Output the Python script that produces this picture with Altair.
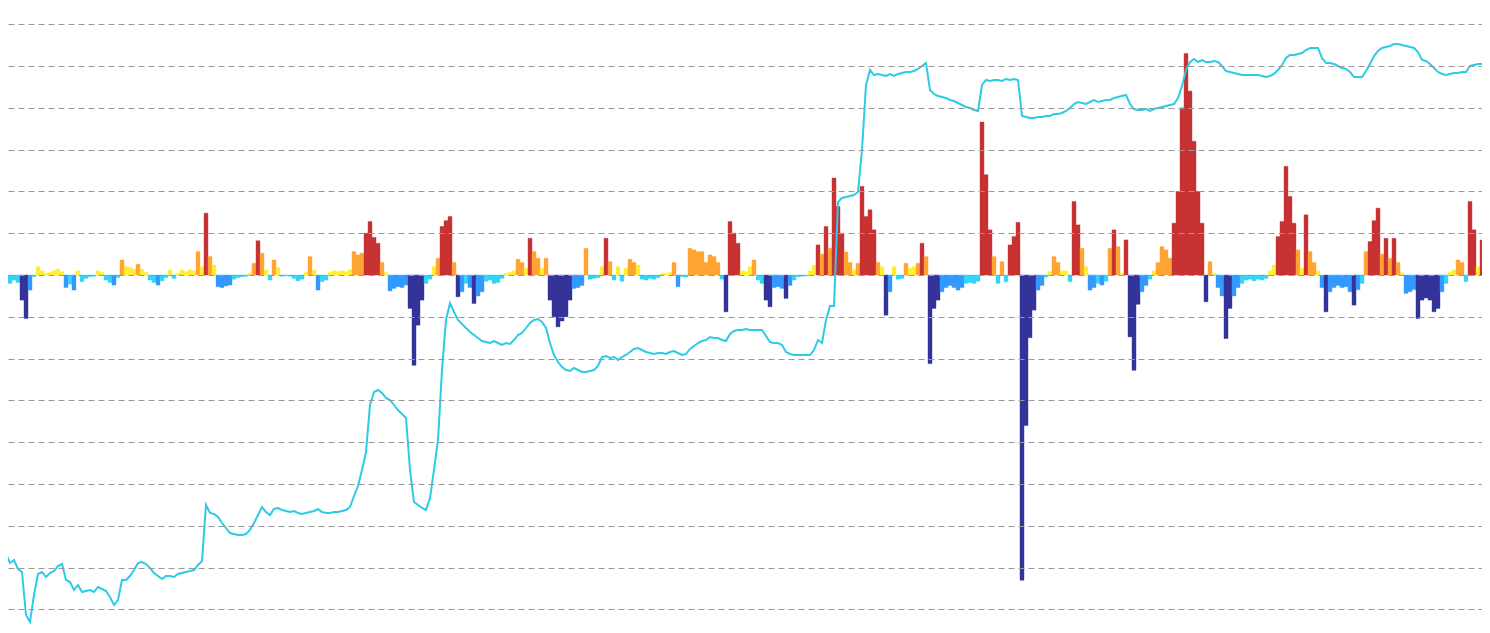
import altair as alt
import pandas as pd

# Oscillator values (one per period), in gridline units
momentum = [
    -0.16, -0.2, -0.2, -0.12, -0.18, -0.6, -1.04, -0.36, -0.04, 0.2,
    0.1, 0.04, 0.06, 0.1, 0.14, 0.08, -0.3, -0.22, -0.36, 0.1,
    -0.16, -0.08, -0.04, -0.03, 0.1, 0.06, -0.12, -0.18, -0.24, -0.06,
    0.36, 0.2, 0.18, 0.14, 0.26, 0.14, 0.06, -0.12, -0.18, -0.24,
    -0.14, -0.06, 0.12, -0.08, 0.04, 0.12, 0.08, 0.12, 0.1, 0.56,
    0.2, 1.48, 0.44, 0.24, -0.28, -0.3, -0.26, -0.24, -0.1, -0.06,
    -0.04, -0.03, 0.04, 0.28, 0.82, 0.52, 0.12, -0.12, 0.36, 0.18,
    -0.03, -0.02, -0.03, -0.08, -0.14, -0.1, 0.06, 0.44, 0.12, -0.36,
    -0.16, -0.12, 0.06, 0.1, 0.08, 0.1, 0.08, 0.12, 0.56, 0.48,
    0.52, 1.0, 1.28, 0.9, 0.76, 0.3, 0.06, -0.38, -0.32, -0.28,
    -0.3, -0.24, -0.8, -2.16, -1.2, -0.6, -0.2, -0.1, 0.2, 0.4,
    1.16, 1.3, 1.4, 0.3, -0.52, -0.4, -0.2, -0.3, -0.68, -0.5,
    -0.4, -0.15, -0.12, -0.2, -0.18, -0.08, 0.04, 0.06, 0.1, 0.38,
    0.3, 0.16, 0.88, 0.56, 0.4, 0.16, 0.4, -0.6, -1.0, -1.24,
    -1.1, -1.0, -0.6, -0.32, -0.3, -0.25, 0.64, -0.1, -0.08, -0.06,
    0.2, 0.88, 0.32, -0.12, 0.2, -0.15, 0.16, 0.38, 0.3, 0.24,
    -0.1, -0.12, -0.08, -0.1, -0.06, 0.04, 0.03, 0.06, 0.3, -0.28,
    -0.04, -0.05, 0.64, 0.6, 0.56, 0.56, 0.3, 0.48, 0.44, 0.3,
    -0.1, -0.88, 1.28, 1.0, 0.76, 0.1, 0.08, 0.2, 0.36, -0.12,
    -0.2, -0.6, -0.76, -0.3, -0.28, -0.32, -0.56, -0.25, -0.12, -0.04,
    -0.03, -0.02, 0.1, 0.24, 0.72, 0.5, 1.16, 0.64, 2.32, 1.64,
    1.0, 0.55, 0.3, 0.12, 0.28, 2.12, 1.4, 1.56, 1.08, 0.3,
    0.2, -0.96, -0.4, 0.2, -0.1, -0.08, 0.28, 0.16, 0.2, 0.28,
    0.76, 0.44, -2.12, -0.8, -0.6, -0.4, -0.3, -0.25, -0.3, -0.36,
    -0.3, -0.2, -0.18, -0.2, -0.15, 3.66, 2.4, 1.08, 0.44, -0.2,
    0.32, -0.16, 0.72, 0.92, 1.26, -7.3, -3.6, -1.5, -0.84, -0.36,
    -0.25, -0.05, 0.08, 0.44, 0.3, 0.1, 0.1, -0.16, 1.76, 1.2,
    0.64, 0.2, -0.36, -0.3, -0.2, -0.24, -0.15, 0.64, 1.08, 0.68,
    0.04, 0.84, -1.48, -2.28, -0.7, -0.4, -0.25, -0.1, 0.1, 0.3,
    0.68, 0.6, 0.4, 1.24, 2.0, 4.0, 5.3, 4.4, 3.2, 2.0,
    1.24, -0.64, 0.32, 0.04, -0.3, -0.5, -1.52, -0.8, -0.5, -0.3,
    -0.2, -0.12, -0.1, -0.14, -0.1, -0.12, -0.08, 0.1, 0.24, 0.92,
    1.28, 2.6, 1.88, 1.24, 0.6, 0.16, 1.44, 0.56, 0.3, 0.1,
    -0.3, -0.88, -0.4, -0.3, -0.25, -0.3, -0.28, -0.4, -0.72, -0.35,
    -0.2, 0.56, 0.8, 1.3, 1.6, 0.5, 0.88, 0.4, 0.88, 0.3,
    0.05, -0.44, -0.4, -0.35, -1.04, -0.6, -0.55, -0.6, -0.88, -0.8,
    -0.4, -0.2, 0.06, 0.12, 0.36, 0.3, -0.16, 1.76, 1.08, 0.2,
    0.84, 0.56,
]

# Price index (one per period, arbitrary units)
price = [
    108, 106, 97, 100, 91, 88, 45, 38, 65, 86,
    88, 83, 87, 89, 94, 96, 80, 78, 70, 75,
    68, 69, 70, 68, 73, 71, 69, 63, 55, 60,
    80, 80, 84, 90, 97, 98, 96, 92, 87, 84,
    81, 84, 84, 83, 86, 87, 88, 89, 90, 95,
    99, 155, 147, 146, 143, 137, 132, 127, 126, 125,
    125, 126, 130, 137, 145, 153, 148, 145, 151, 152,
    150, 149, 148, 149, 147, 146, 147, 148, 149, 151,
    148, 147, 147, 148, 148, 149, 150, 153, 164, 174,
    190, 208, 255, 268, 270, 267, 262, 260, 255, 250,
    246, 242, 190, 158, 155, 152, 150, 162, 190, 220,
    290, 340, 357, 348, 340, 336, 332, 328, 325, 322,
    319, 318, 317, 319, 317, 315, 317, 316, 320, 325,
    327, 332, 337, 340, 341, 338, 332, 317, 305, 298,
    293, 290, 289, 292, 290, 288, 288, 289, 290, 294,
    303, 304, 302, 303, 300, 303, 305, 308, 311, 312,
    310, 308, 307, 306, 307, 307, 306, 308, 309, 307,
    305, 306, 311, 314, 317, 319, 320, 323, 322, 322,
    320, 319, 326, 329, 330, 330, 331, 330, 330, 330,
    330, 324, 318, 317, 317, 315, 308, 306, 305, 305,
    305, 305, 305, 310, 320, 317, 340, 354, 354, 458,
    462, 463, 464, 465, 468, 510, 575, 590, 585, 586,
    585, 584, 586, 584, 586, 587, 588, 588, 589, 591,
    594, 597, 570, 566, 564, 563, 562, 560, 559, 557,
    555, 553, 552, 550, 549, 575, 580, 579, 580, 580,
    579, 581, 580, 581, 580, 544, 543, 542, 542, 543,
    543, 544, 544, 546, 546, 547, 549, 552, 556, 558,
    557, 556, 558, 560, 558, 559, 560, 560, 562, 563,
    564, 565, 556, 551, 550, 550, 551, 549, 551, 552,
    553, 554, 555, 556, 562, 574, 590, 598, 601, 598,
    600, 598, 598, 599, 598, 594, 589, 588, 587, 586,
    585, 585, 585, 585, 585, 584, 583, 584, 586, 590,
    595, 602, 605, 605, 606, 607, 610, 612, 612, 612,
    602, 597, 597, 596, 594, 592, 591, 588, 583, 583,
    583, 589, 596, 604, 609, 612, 613, 614, 616, 616,
    615, 614, 613, 612, 608, 600, 599, 596, 592, 588,
    586, 585, 586, 587, 587, 588, 588, 594, 595, 596,
    596,
]

band_names = ["strong_up", "up", "weak_up", "weak_down", "down", "strong_down"]
band_colors = ["#c83232", "#ffa533", "#ffee33", "#33d4f5", "#3399ff", "#333399"]


def band(v):
    if v > 0.7:
        return "strong_up"
    if v > 0.25:
        return "up"
    if v >= 0:
        return "weak_up"
    if v >= -0.22:
        return "weak_down"
    if v >= -0.5:
        return "down"
    return "strong_down"


bars = pd.DataFrame({"t": list(range(len(momentum))), "v": momentum})
bars["t2"] = bars["t"] + 1
bars["base"] = 0.0
bars["band"] = bars["v"].apply(band)

line = pd.DataFrame({"t": [i + 0.5 for i in range(len(price))], "p": price})

xscale = alt.Scale(domain=[2, 370.5], nice=False, zero=False)
yscale = alt.Scale(domain=[-8.349, 6.388], nice=False, zero=False)

bar_layer = alt.Chart(bars).mark_rect(clip=True, strokeWidth=0.4).encode(
    x=alt.X("t:Q", scale=xscale, axis=None),
    x2="t2",
    y=alt.Y(
        "v:Q",
        scale=yscale,
        axis=alt.Axis(
            values=list(range(-8, 7)),
            grid=True,
            gridDash=[6, 4],
            gridColor="#999999",
            gridWidth=1,
            domain=False,
            ticks=False,
            labels=False,
            title=None,
            zindex=1,
        ),
    ),
    y2="base",
    color=alt.Color("band:N", scale=alt.Scale(domain=band_names, range=band_colors), legend=None),
    stroke=alt.Stroke("band:N", scale=alt.Scale(domain=band_names, range=band_colors), legend=None),
)

line_layer = alt.Chart(line).mark_line(clip=True, color="#2ccbe6", strokeWidth=2).encode(
    x=alt.X("t:Q", scale=xscale, axis=None),
    y=alt.Y("p:Q", scale=alt.Scale(domain=[36, 652], nice=False, zero=False), axis=None),
)

chart = (
    alt.layer(bar_layer, line_layer)
    .resolve_scale(y="independent")
    .properties(width=1474, height=616, padding=0, autosize="none", background="white")
    .configure_view(stroke=None)
)

chart.save("out.html", embed_options={"renderer": "svg", "actions": False})
